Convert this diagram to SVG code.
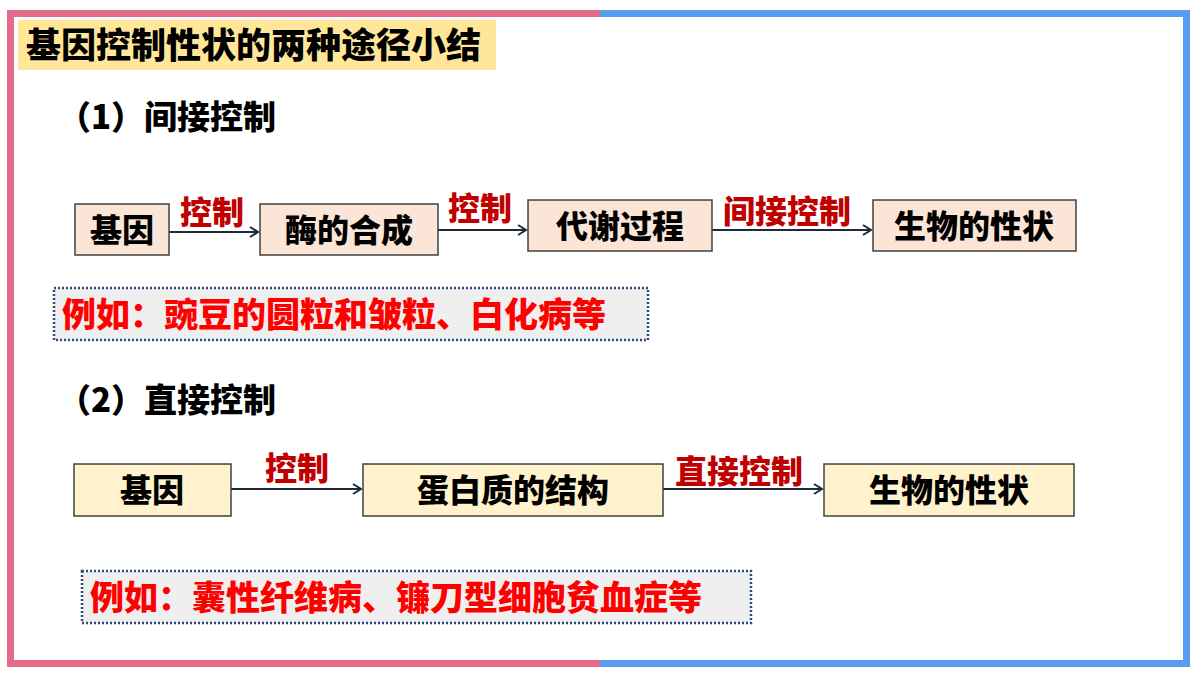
<svg xmlns="http://www.w3.org/2000/svg" width="1200" height="675" viewBox="0 0 1200 675">
<defs>
<style>
text{font-family:"Noto Sans CJK SC","Liberation Sans",sans-serif;font-weight:900;}
.b1{fill:#FBE5D6;stroke:#404040;stroke-width:1.5}
.b2{fill:#FFF2CC;stroke:#404040;stroke-width:1.5}
.t{font-size:32px;fill:#000;text-anchor:middle}
.lb{font-size:32px;fill:#C00000;text-anchor:middle}
.ex{fill:#EFEFEF;stroke:#2F4A80;stroke-width:2.5;stroke-dasharray:2 2}
.ext{font-size:34px;fill:#FF0000}
.c{stroke:#1F2A3A;stroke-width:2;fill:none;marker-end:url(#a)}
</style>
<marker id="a" markerWidth="12" markerHeight="12" refX="10" refY="6" orient="auto" markerUnits="userSpaceOnUse"><path d="M2,1 L10,6 L2,11" fill="none" stroke="#1F2A3A" stroke-width="2"/></marker>
</defs>
<rect width="1200" height="675" fill="#fff"/>
<g id="frame">
<path d="M600,13.5 H10.5 V663.5 H600" fill="none" stroke="#E46C8A" stroke-width="7"/>
<path d="M600,13.5 H1186.5 V663.5 H600" fill="none" stroke="#5B9BF0" stroke-width="7"/>
</g>
<g id="title"><rect x="18" y="20" width="478" height="50" fill="#FFE699"/><text x="26" y="58" font-size="35">基因控制性状的两种途径小结</text></g>
<text x="58" y="129" font-size="33">（1）间接控制</text>
<text x="58" y="412" font-size="33">（2）直接控制</text>
<g id="connectors">
<line class="c" x1="169" y1="232" x2="258" y2="232"/>
<line class="c" x1="438" y1="230" x2="526" y2="230"/>
<line class="c" x1="712" y1="230" x2="871" y2="230"/>
<line class="c" x1="231" y1="489" x2="361" y2="489"/>
<line class="c" x1="663" y1="489" x2="822" y2="489"/>
<text class="lb" x="212" y="224">控制</text>
<text class="lb" x="480" y="220">控制</text>
<text class="lb" x="787" y="223">间接控制</text>
<text class="lb" x="297" y="480">控制</text>
<text class="lb" x="739" y="483">直接控制</text>
</g>
<g id="n1"><rect class="b1" x="75" y="204" width="94" height="51"/><text class="t" x="122" y="242">基因</text></g>
<g id="n2"><rect class="b1" x="260" y="204" width="178" height="51"/><text class="t" x="349" y="242">酶的合成</text></g>
<g id="n3"><rect class="b1" x="528" y="200" width="184" height="51"/><text class="t" x="620" y="238">代谢过程</text></g>
<g id="n4"><rect class="b1" x="873" y="200" width="203" height="51"/><text class="t" x="974" y="238">生物的性状</text></g>
<g id="ex1"><rect class="ex" x="54" y="288" width="594" height="52"/><text class="ext" x="62" y="327">例如：豌豆的圆粒和皱粒、白化病等</text></g>
<g id="m1"><rect class="b2" x="74" y="464" width="157" height="52"/><text class="t" x="152" y="502">基因</text></g>
<g id="m2"><rect class="b2" x="363" y="464" width="300" height="52"/><text class="t" x="513" y="502">蛋白质的结构</text></g>
<g id="m3"><rect class="b2" x="824" y="464" width="250" height="52"/><text class="t" x="949" y="502">生物的性状</text></g>
<g id="ex2"><rect class="ex" x="82" y="571" width="669" height="52"/><text class="ext" x="90" y="610">例如：囊性纤维病、镰刀型细胞贫血症等</text></g>
</svg>
